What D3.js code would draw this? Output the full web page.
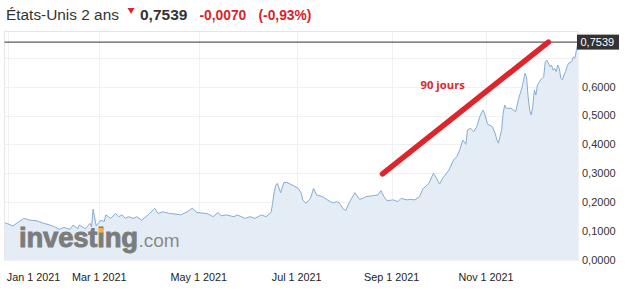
<!DOCTYPE html>
<html><head><meta charset="utf-8">
<script src="https://cdn.jsdelivr.net/npm/d3@7"></script>
<style>body{margin:0;background:#fff}svg{display:block}</style>
</head><body>
<svg id="c" width="628" height="290"></svg>
<script>
// ---- data ----
const dates = ["2020-12-30","2021-01-04","2021-01-11","2021-01-15","2021-01-19","2021-01-24","2021-01-28","2021-01-31",
"2021-02-03","2021-02-06","2021-02-10","2021-02-12","2021-02-15","2021-02-16","2021-02-20","2021-02-23","2021-02-24","2021-02-25","2021-02-27",
"2021-03-02","2021-03-04","2021-03-05","2021-03-08","2021-03-11","2021-03-13","2021-03-15","2021-03-17","2021-03-19","2021-03-22","2021-03-24","2021-03-27","2021-03-31",
"2021-04-04","2021-04-06","2021-04-09","2021-04-13","2021-04-17","2021-04-20","2021-04-24","2021-04-27","2021-04-30",
"2021-05-06","2021-05-08","2021-05-10","2021-05-13","2021-05-15","2021-05-18","2021-05-23","2021-05-25","2021-05-30",
"2021-06-02","2021-06-05","2021-06-09","2021-06-12","2021-06-15","2021-06-16","2021-06-17","2021-06-18","2021-06-19","2021-06-21","2021-06-23","2021-06-25","2021-06-28",
"2021-07-02","2021-07-04","2021-07-05","2021-07-07","2021-07-10","2021-07-12","2021-07-14","2021-07-18","2021-07-21","2021-07-23","2021-07-25","2021-07-27","2021-07-29","2021-07-31",
"2021-08-02","2021-08-04","2021-08-08","2021-08-11","2021-08-13","2021-08-15","2021-08-20","2021-08-23","2021-08-25","2021-08-27","2021-08-29",
"2021-09-02","2021-09-05","2021-09-07","2021-09-11","2021-09-13","2021-09-16","2021-09-19","2021-09-21","2021-09-25","2021-09-28","2021-09-30",
"2021-10-02","2021-10-04","2021-10-08","2021-10-11","2021-10-13","2021-10-15","2021-10-17","2021-10-19","2021-10-20","2021-10-22","2021-10-24","2021-10-26","2021-10-28","2021-10-30","2021-10-31",
"2021-11-02","2021-11-05","2021-11-07","2021-11-08","2021-11-09","2021-11-11","2021-11-12","2021-11-13","2021-11-14","2021-11-17","2021-11-20","2021-11-22","2021-11-24","2021-11-26","2021-11-27","2021-11-28","2021-11-29","2021-11-30",
"2021-12-01","2021-12-02","2021-12-03","2021-12-04","2021-12-06","2021-12-08","2021-12-09","2021-12-10","2021-12-12","2021-12-13","2021-12-14","2021-12-15","2021-12-16","2021-12-17","2021-12-18","2021-12-19","2021-12-20","2021-12-21","2021-12-22","2021-12-23","2021-12-24","2021-12-26","2021-12-27","2021-12-28","2021-12-29","2021-12-30"];
const values = [0.129,0.118,0.144,0.138,0.136,0.127,0.121,0.115,
0.106,0.113,0.106,0.121,0.108,0.121,0.108,0.127,0.115,0.176,0.118,
0.138,0.133,0.156,0.144,0.161,0.150,0.156,0.144,0.150,0.144,0.150,0.138,0.156,
0.179,0.161,0.167,0.161,0.159,0.156,0.167,0.179,0.164,
0.161,0.156,0.150,0.164,0.153,0.156,0.150,0.156,0.144,
0.150,0.144,0.156,0.150,0.164,0.196,0.236,0.260,0.265,0.233,0.268,0.268,0.260,
0.248,0.231,0.208,0.196,0.213,0.248,0.225,0.219,0.208,0.202,0.198,0.202,0.196,0.179,
0.171,0.196,0.233,0.210,0.213,0.219,0.223,0.225,0.240,0.219,0.205,
0.208,0.202,0.213,0.208,0.210,0.208,0.219,0.245,0.265,0.300,0.283,
0.263,0.283,0.311,0.346,0.357,0.381,0.415,0.400,0.450,0.456,0.444,0.461,0.496,0.519,0.508,
0.470,0.462,0.436,0.415,0.404,0.450,0.508,0.536,0.525,0.525,0.513,0.560,0.594,0.646,0.634,0.565,0.519,0.502,
0.531,0.588,0.571,0.606,0.623,0.634,0.686,0.692,0.669,0.675,0.657,0.663,0.652,0.675,0.663,0.629,0.623,0.640,0.652,0.669,0.681,0.686,0.703,0.698,0.727,0.7539];

const xTickDates  = ["2021-01-01","2021-03-01","2021-05-01","2021-07-01","2021-09-01","2021-11-01"];
const xTickLabels = ["Jan 1 2021","Mar 1 2021","May 1 2021","Jul 1 2021","Sep 1 2021","Nov 1 2021"];
const yTicks = [0,0.1,0.2,0.3,0.4,0.5,0.6,0.7];
const lastValue = 0.7539;
const titleText = "États-Unis 2 ans";
const priceText = "0,7539";
const changeText = "-0,0070";
const changePctText = "(-0,93%)";
const trendDates = ["2021-08-26","2021-12-11"];
const trendValues = [0.298, 0.7539];
const trendLabel = "90 jours";
const trendLabelPos = ["2021-10-04", 0.590];

// ---- layout ----
const parse = d3.utcParse("%Y-%m-%d");
const svg = d3.select("#c");
const pLeft = 4.5, pRight = 578, pTop = 31.5, pBottom = 260;

// x axis breakpoints (trading-day compressed calendar)
const xBreakDates = ["2020-12-30","2021-01-01","2021-03-01","2021-05-01","2021-07-01","2021-09-01","2021-11-01","2021-12-30"].map(parse);
const x = d3.scaleUtc().domain(xBreakDates).range([5, 8.3, 99.3, 198.7, 296.7, 391.7, 486, 578]);
const y = d3.scaleLinear().domain([0, 0.7]).range([260, 57.7]);

const data = dates.map((d,i)=>({d:parse(d), v:values[i]}));

const fmt = v => d3.format(".4f")(v).replace(".", ",");
const sans = "'Liberation Sans', Arial, sans-serif";

// plot background frame
svg.append("rect").attr("x", pLeft).attr("y", pTop).attr("width", pRight-pLeft).attr("height", pBottom-pTop)
  .attr("fill","#fff").attr("stroke","#e6e6e6").attr("stroke-width",1);

// grids
svg.append("g").selectAll("line").data(yTicks.slice(1)).join("line")
  .attr("x1", pLeft).attr("x2", pRight)
  .attr("y1", d=>Math.round(y(d))+0.5).attr("y2", d=>Math.round(y(d))+0.5)
  .attr("stroke","#f0f0f0");
svg.append("g").selectAll("line").data(xTickDates.map(parse)).join("line")
  .attr("x1", d=>Math.round(x(d))+0.5).attr("x2", d=>Math.round(x(d))+0.5)
  .attr("y1", pTop).attr("y2", pBottom)
  .attr("stroke","#f0f0f0");

// area + line
const area = d3.area().x(d=>x(d.d)).y0(y(0)).y1(d=>y(d.v));
const line = d3.line().x(d=>x(d.d)).y(d=>y(d.v));
svg.append("path").datum(data).attr("d", area).attr("fill","#e4edf6");

// watermark
const wm = svg.append("text").attr("x", 19).attr("y", 247)
  .attr("font-family", sans).attr("font-size", 27.5).attr("font-weight","bold")
  .attr("fill","#7c7c7c").attr("stroke","#7c7c7c").attr("stroke-width",0.9)
  .attr("letter-spacing", -0.2).text("investing");
wm.append("tspan").attr("font-weight","normal").attr("font-size", 19).attr("fill","#8a8a8a")
  .attr("stroke","none").attr("dx", 0.5).attr("letter-spacing",0).text(".com");
const ext = wm.node().getExtentOfChar(6);
svg.append("rect").attr("x", ext.x + ext.width/2 - 2.4).attr("y", 228).attr("width", 4.8).attr("height", 4.6).attr("fill","#efb54c");

svg.append("path").datum(data).attr("d", line).attr("fill","none").attr("stroke","#86acd4").attr("stroke-width",1);

// current value line
svg.append("line").attr("x1", pLeft).attr("x2", pRight)
  .attr("y1", y(lastValue)).attr("y2", y(lastValue)).attr("stroke","#333").attr("stroke-width",1);

// y labels
svg.append("g").selectAll("text").data(yTicks.filter(t => Math.abs(y(t)-y(lastValue)) > 16)).join("text")
  .attr("x", 582).attr("y", d=>y(d)).attr("dy","0.36em")
  .attr("font-family", sans).attr("font-size", 11).attr("fill","#333").text(fmt);

// price box
svg.append("rect").attr("x", 577).attr("y", y(lastValue)-7.5).attr("width", 42).attr("height", 15).attr("fill","#333");
svg.append("text").attr("x", 580.5).attr("y", y(lastValue)).attr("dy","0.36em")
  .attr("font-family", sans).attr("font-size", 11).attr("fill","#fff").text(fmt(lastValue));

// x labels
svg.append("g").selectAll("text").data(xTickDates).join("text")
  .attr("x", (d,i)=> Math.max(7, x(parse(d)) - 26.5) + 26.5)
  .attr("y", 281).attr("text-anchor","middle")
  .attr("font-family", sans).attr("font-size", 10.8).attr("fill","#222")
  .text((d,i)=>xTickLabels[i]);

// trend annotation
svg.append("line")
  .attr("x1", x(parse(trendDates[0]))).attr("y1", y(trendValues[0]))
  .attr("x2", x(parse(trendDates[1]))).attr("y2", y(trendValues[1]))
  .attr("stroke","#e0242b").attr("stroke-width",5.5).attr("stroke-linecap","round");
svg.append("text").attr("x", x(parse(trendLabelPos[0]))).attr("y", y(trendLabelPos[1]))
  .attr("font-family","'Open Sans', sans-serif").attr("font-weight","bold").attr("font-size", 11.3)
  .attr("fill","#d92a2f").attr("text-anchor","middle").text(trendLabel);

// header
svg.append("text").attr("x", 6).attr("y", 19.5).attr("font-family", sans).attr("font-size", 15.4)
  .attr("fill","#333").text(titleText);
svg.append("path").attr("d","M127.5,8 L134.5,8 L131,14 Z").attr("fill","#e0242b");
svg.append("text").attr("x", 140).attr("y", 19.5).attr("font-family", sans).attr("font-size", 15.5).attr("font-weight","bold")
  .attr("fill","#333").text(priceText);
svg.append("text").attr("x", 199.5).attr("y", 19.5).attr("font-family", sans).attr("font-size", 13.8).attr("font-weight","bold")
  .attr("fill","#d9232a").text(changeText);
svg.append("text").attr("x", 258.5).attr("y", 19.5).attr("font-family", sans).attr("font-size", 13.8).attr("font-weight","bold")
  .attr("fill","#d9232a").text(changePctText);
</script>
</body></html>
